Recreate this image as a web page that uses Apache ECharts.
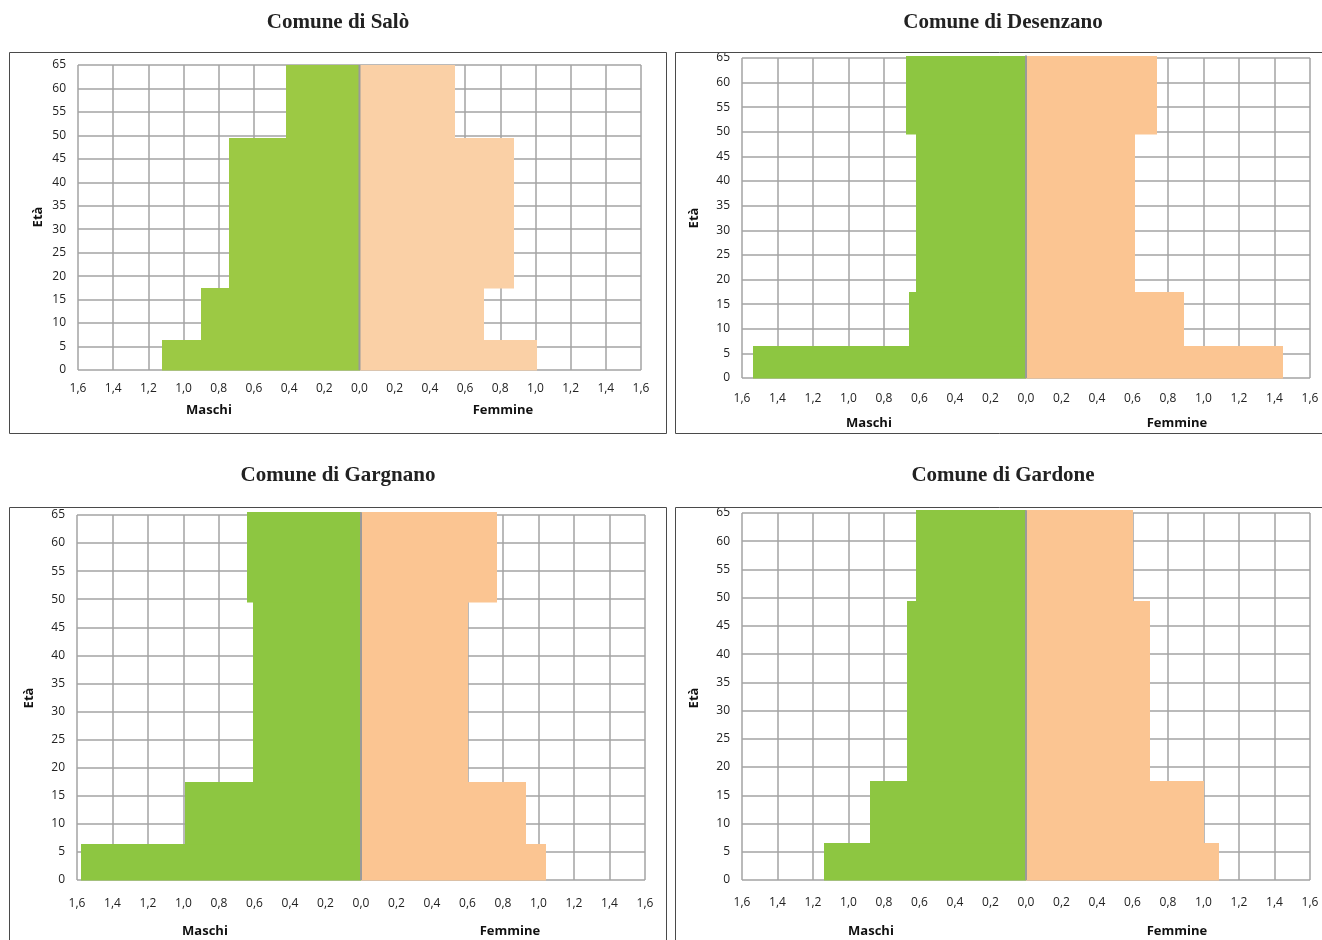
<!DOCTYPE html>
<html>
<head>
<meta charset="utf-8">
<script src="https://cdn.jsdelivr.net/npm/echarts@6/dist/echarts.min.js"></script>
<style>
html,body{margin:0;padding:0;background:#fff;}
#c{width:1322px;height:940px;}
</style>
</head>
<body>
<div id="c"></div>
<script>
// ---- data ----
const titles = ['Comune di Salò', 'Comune di Desenzano', 'Comune di Gargnano', 'Comune di Gardone'];
const bandStart = [0, 6.5, 17.5, 49.5];
const bandEndSalo = [6.5, 17.5, 49.5, 65];
const bandEndOthers = [6.5, 17.5, 49.5, 65.5];
const maschiSalo = [1.12, 0.90, 0.74, 0.42];
const femmineSalo = [1.01, 0.71, 0.88, 0.54];
const maschiDesenzano = [1.54, 0.66, 0.62, 0.675];
const femmineDesenzano = [1.45, 0.89, 0.615, 0.74];
const maschiGargnano = [1.58, 0.99, 0.61, 0.64];
const femmineGargnano = [1.04, 0.93, 0.60, 0.765];
const maschiGardone = [1.14, 0.88, 0.67, 0.62];
const femmineGardone = [1.085, 1.00, 0.70, 0.60];
const xTickMin = -1.6, xTickMax = 1.6, xTickStep = 0.2;
const yTickMin = 0, yTickMax = 65, yTickStep = 5;

// ---- layout ----
const panels = [
  {m: maschiSalo, f: femmineSalo, end: bandEndSalo, grid: {left: 78, top: 65, width: 563, height: 305},
   box: [9, 52, 657, 381], title: [338, 23], eta: [38, 217], maschi: [209, 410], femmine: [503, 410],
   green: '#9CC944', peach: '#FAD0A6', labelMargin: 13},
  {m: maschiDesenzano, f: femmineDesenzano, end: bandEndOthers, grid: {left: 742, top: 58, width: 568, height: 320},
   box: [675, 52, 700, 381], title: [1003, 23], eta: [694, 218], maschi: [869, 423], femmine: [1177, 423],
   green: '#8DC641', peach: '#FBC592', labelMargin: 15},
  {m: maschiGargnano, f: femmineGargnano, end: bandEndOthers, grid: {left: 77, top: 515, width: 568, height: 365},
   box: [9, 507, 657, 460], title: [338, 476], eta: [29, 698], maschi: [205, 931], femmine: [510, 931],
   green: '#8DC641', peach: '#FBC592', labelMargin: 18},
  {m: maschiGardone, f: femmineGardone, end: bandEndOthers, grid: {left: 742, top: 513, width: 568, height: 367},
   box: [675, 507, 700, 460], title: [1003, 476], eta: [694, 698], maschi: [871, 931], femmine: [1177, 931],
   green: '#8DC641', peach: '#FBC592', labelMargin: 17}
];

const FONT = '"Open Sans", "Liberation Sans", sans-serif';
const gridColor = '#A3A3A3';
const chart = echarts.init(document.getElementById('c'), null, {renderer: 'canvas'});

const grids = [], xAxes = [], yAxes = [], series = [], graphics = [];

function fmtX(v) {
  return Math.abs(v).toFixed(1).replace('.', ',');
}

function renderRect(params, api) {
  const v = api.value(0), s = api.value(1), e = api.value(2);
  const p0 = api.coord([0, s]);
  const p1 = api.coord([v, e]);
  const x0 = Math.round(Math.min(p0[0], p1[0]));
  const x1 = Math.round(Math.max(p0[0], p1[0]));
  const y0 = Math.round(Math.min(p0[1], p1[1]));
  const y1 = Math.round(Math.max(p0[1], p1[1]));
  return {type: 'rect', shape: {x: x0, y: y0, width: x1 - x0, height: y1 - y0 + 0.5},
    style: {fill: api.visual('color')}};
}

panels.forEach((p, i) => {
  grids.push(Object.assign({containLabel: false}, p.grid));
  xAxes.push({
    type: 'value', gridIndex: i, min: xTickMin, max: xTickMax, interval: xTickStep,
    axisLine: {show: false}, axisTick: {show: false},
    splitLine: {show: true, lineStyle: {color: gridColor, width: 1.5}},
    axisLabel: {formatter: fmtX, color: '#222', fontFamily: FONT, fontSize: 12, margin: p.labelMargin}
  });
  yAxes.push({
    type: 'value', gridIndex: i, min: yTickMin, max: yTickMax, interval: yTickStep,
    axisLine: {show: false}, axisTick: {show: false},
    splitLine: {show: true, lineStyle: {color: gridColor, width: 1.5}},
    axisLabel: {color: '#222', fontFamily: FONT, fontSize: 12, margin: 12}
  });
  const maleData = p.m.map((v, k) => [-v, bandStart[k], p.end[k]]);
  const femData = p.f.map((v, k) => [v, bandStart[k], p.end[k]]);
  series.push({type: 'custom', xAxisIndex: i, yAxisIndex: i, renderItem: renderRect, clip: false,
    itemStyle: {color: p.green}, data: maleData, encode: {x: 0, y: [1, 2]}, silent: true, z: 2});
  series.push({type: 'custom', xAxisIndex: i, yAxisIndex: i, renderItem: renderRect, clip: false,
    itemStyle: {color: p.peach}, data: femData, encode: {x: 0, y: [1, 2]}, silent: true, z: 2});
  series.push({type: 'line', xAxisIndex: i, yAxisIndex: i, data: [[0, yTickMin], [0, p.end[3]]],
    symbol: 'none', lineStyle: {color: '#9A9A9A', width: 2}, silent: true, z: 3, clip: false});

  graphics.push({type: 'rect', shape: {x: p.box[0] + 0.5, y: p.box[1] + 0.5, width: p.box[2], height: p.box[3]},
    style: {fill: 'none', stroke: '#4A4A4A', lineWidth: 1}, z: 100, silent: true});
  graphics.push({type: 'text', x: p.title[0], y: p.title[1],
    style: {text: titles[i], fill: '#222', font: 'bold 21px "Liberation Serif", "DejaVu Serif", serif',
      textAlign: 'center', textVerticalAlign: 'middle'}, z: 100});
  graphics.push({type: 'text', x: p.eta[0], y: p.eta[1], rotation: Math.PI / 2,
    style: {text: 'Età', fill: '#111', font: 'bold 13px ' + FONT, textAlign: 'center', textVerticalAlign: 'middle'}, z: 100});
  graphics.push({type: 'text', x: p.maschi[0], y: p.maschi[1],
    style: {text: 'Maschi', fill: '#111', font: 'bold 13px ' + FONT, textAlign: 'center', textVerticalAlign: 'middle'}, z: 100});
  graphics.push({type: 'text', x: p.femmine[0], y: p.femmine[1],
    style: {text: 'Femmine', fill: '#111', font: 'bold 13px ' + FONT, textAlign: 'center', textVerticalAlign: 'middle'}, z: 100});
});

chart.setOption({
  animation: false,
  backgroundColor: '#fff',
  grid: grids,
  xAxis: xAxes,
  yAxis: yAxes,
  series: series,
  graphic: {elements: graphics}
});
</script>
</body>
</html>
